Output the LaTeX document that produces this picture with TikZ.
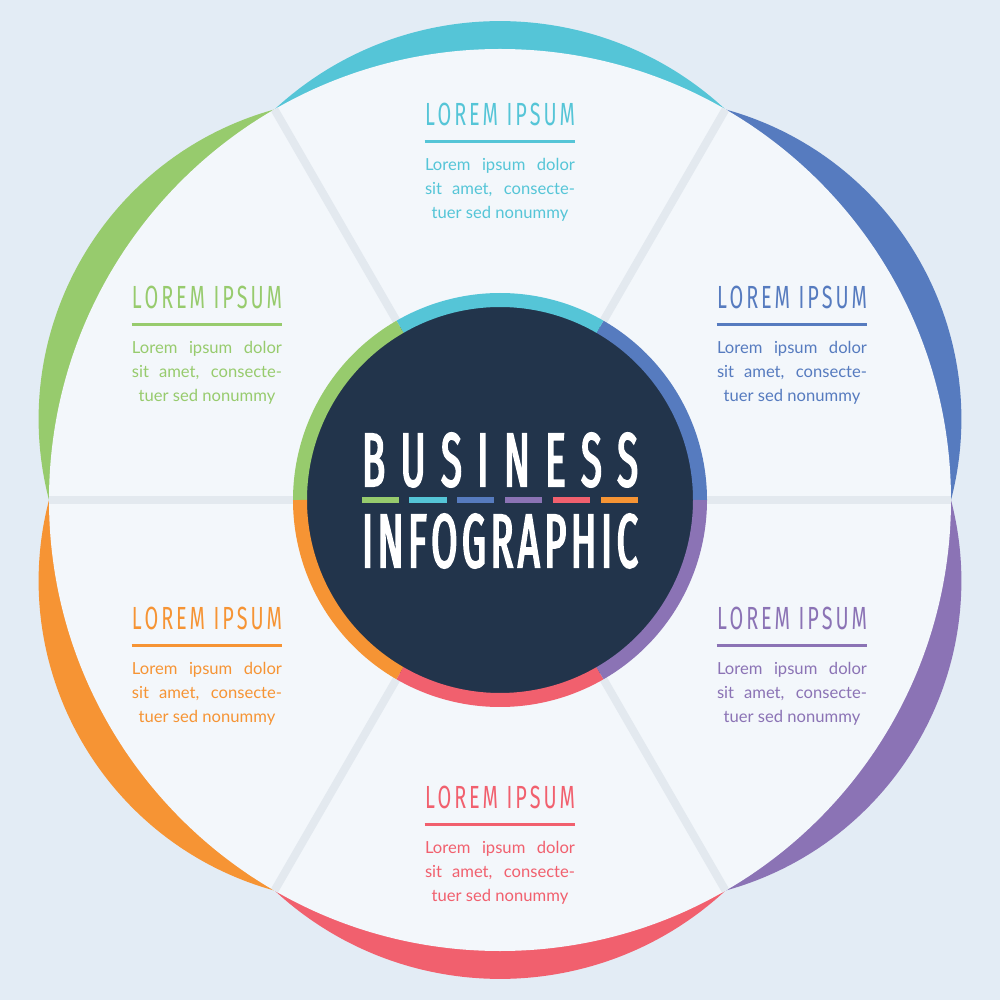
\documentclass[tikz,border=0pt]{standalone}
\usepackage{fontspec}
\setmainfont{Lato}
\newfontfamily\titlefont[FakeStretch=0.62]{Fira Sans}
\newfontfamily\headfont[FakeStretch=0.5, FakeBold=2.5]{Fira Sans}
\usetikzlibrary{positioning}

\definecolor{bgblue}{HTML}{E3ECF5}
\definecolor{disk}{HTML}{F3F7FB}
\definecolor{spoke}{HTML}{E3E9EF}
\definecolor{navy}{HTML}{22344B}
\definecolor{pcyan}{HTML}{55C5D7}
\definecolor{pblue}{HTML}{567BBF}
\definecolor{ppurple}{HTML}{8B73B5}
\definecolor{pred}{HTML}{F1606E}
\definecolor{porange}{HTML}{F69434}
\definecolor{pgreen}{HTML}{97CB6D}

\newcommand{\paneltitle}{\makebox[75pt][s]{L\hfil O\hfil R\hfil E\hfil M\hskip 0pt plus 3fil I\hfil P\hfil S\hfil U\hfil M}}
\newcommand{\panelbody}{\makebox[75pt][s]{Lorem ipsum dolor}\\\makebox[75pt][s]{sit amet, consecte-}\\tuer sed nonummy}

\begin{document}
\begin{tikzpicture}[x=0.5pt, y=0.5pt,
	spokeline/.style={spoke, line width=4pt},
	ringseg/.style={line width=7pt},
	ptitle/.style={font=\titlefont\fontsize{16pt}{16pt}\selectfont, inner sep=0pt},
	pbody/.style={font=\fontsize{8.3pt}{12pt}\selectfont, align=center, inner sep=0pt},
	uline/.style={line width=1.5pt},
	head/.style={font=\headfont\fontsize{38pt}{38pt}\selectfont, text=white, inner sep=0pt},
	bar/.style={line width=3pt}]
	\useasboundingbox (-500,-500) rectangle (500,500);
	\fill[bgblue] (-500,-500) rectangle (500,500);
	% outer petals
	\fill[pcyan] (120:451) arc[start angle=132.8, end angle=47.2, radius=331.8] -- cycle;
	\fill[pblue] (60:451) arc[start angle=74.56, end angle=-14.56, radius=321.4] -- cycle;
	\fill[ppurple] (0:451) arc[start angle=14.56, end angle=-74.56, radius=321.4] -- cycle;
	\fill[pred] (-60:451) arc[start angle=-47.2, end angle=-132.8, radius=331.8] -- cycle;
	\fill[porange] (-120:451) arc[start angle=-105.44, end angle=-194.56, radius=321.4] -- cycle;
	\fill[pgreen] (180:451) arc[start angle=194.56, end angle=105.44, radius=321.4] -- cycle;
	\fill[disk] (0,0) circle (451);
	% spokes
	\draw[spokeline] (0:200) -- (0:451);
	\draw[spokeline] (60:200) -- (60:451);
	\draw[spokeline] (120:200) -- (120:451);
	\draw[spokeline] (180:200) -- (180:451);
	\draw[spokeline] (240:200) -- (240:451);
	\draw[spokeline] (300:200) -- (300:451);
	% centre disc and ring
	\fill[navy] (0,0) circle (200);
	\draw[ringseg, pblue] (0:200) arc[start angle=0, end angle=60, radius=200];
	\draw[ringseg, pcyan] (60:200) arc[start angle=60, end angle=120, radius=200];
	\draw[ringseg, pgreen] (120:200) arc[start angle=120, end angle=180, radius=200];
	\draw[ringseg, porange] (180:200) arc[start angle=180, end angle=240, radius=200];
	\draw[ringseg, pred] (240:200) arc[start angle=240, end angle=300, radius=200];
	\draw[ringseg, ppurple] (300:200) arc[start angle=300, end angle=360, radius=200];
	\node[head] (bus) at (0,40) {\makebox[138pt][s]{B\hfil U\hfil S\hfil I\hfil N\hfil E\hfil S\hfil S}};
	\node[head] (info) at (0,-41) {\makebox[138pt][s]{I\hfil N\hfil F\hfil O\hfil G\hfil R\hfil A\hfil P\hfil H\hfil I\hfil C}};
	\draw[bar, pgreen] (-138,0) -- (-101,0);
	\draw[bar, pcyan] (-91,0) -- (-53,0);
	\draw[bar, pblue] (-43,0) -- (-6,0);
	\draw[bar, ppurple] (5,0) -- (42,0);
	\draw[bar, pred] (53,0) -- (90,0);
	\draw[bar, porange] (101,0) -- (138,0);
	% text panels
	\node[ptitle, text=pcyan] (tcyan) at (0,386) {\paneltitle};
	\draw[uline, pcyan] ([yshift=-8pt]tcyan.south west) -- ([yshift=-8pt]tcyan.south east);
	\node[pbody, text=pcyan, below=16pt of tcyan] (bcyan) {\panelbody};
	\node[ptitle, text=pgreen] (tgreen) at (-293,203) {\paneltitle};
	\draw[uline, pgreen] ([yshift=-8pt]tgreen.south west) -- ([yshift=-8pt]tgreen.south east);
	\node[pbody, text=pgreen, below=16pt of tgreen] (bgreen) {\panelbody};
	\node[ptitle, text=pblue] (tblue) at (292,203) {\paneltitle};
	\draw[uline, pblue] ([yshift=-8pt]tblue.south west) -- ([yshift=-8pt]tblue.south east);
	\node[pbody, text=pblue, below=16pt of tblue] (bblue) {\panelbody};
	\node[ptitle, text=porange] (torange) at (-293,-118) {\paneltitle};
	\draw[uline, porange] ([yshift=-8pt]torange.south west) -- ([yshift=-8pt]torange.south east);
	\node[pbody, text=porange, below=16pt of torange] (borange) {\panelbody};
	\node[ptitle, text=ppurple] (tpurple) at (292,-118) {\paneltitle};
	\draw[uline, ppurple] ([yshift=-8pt]tpurple.south west) -- ([yshift=-8pt]tpurple.south east);
	\node[pbody, text=ppurple, below=16pt of tpurple] (bpurple) {\panelbody};
	\node[ptitle, text=pred] (tred) at (0,-297) {\paneltitle};
	\draw[uline, pred] ([yshift=-8pt]tred.south west) -- ([yshift=-8pt]tred.south east);
	\node[pbody, text=pred, below=16pt of tred] (bred) {\panelbody};
\end{tikzpicture}
\end{document}
